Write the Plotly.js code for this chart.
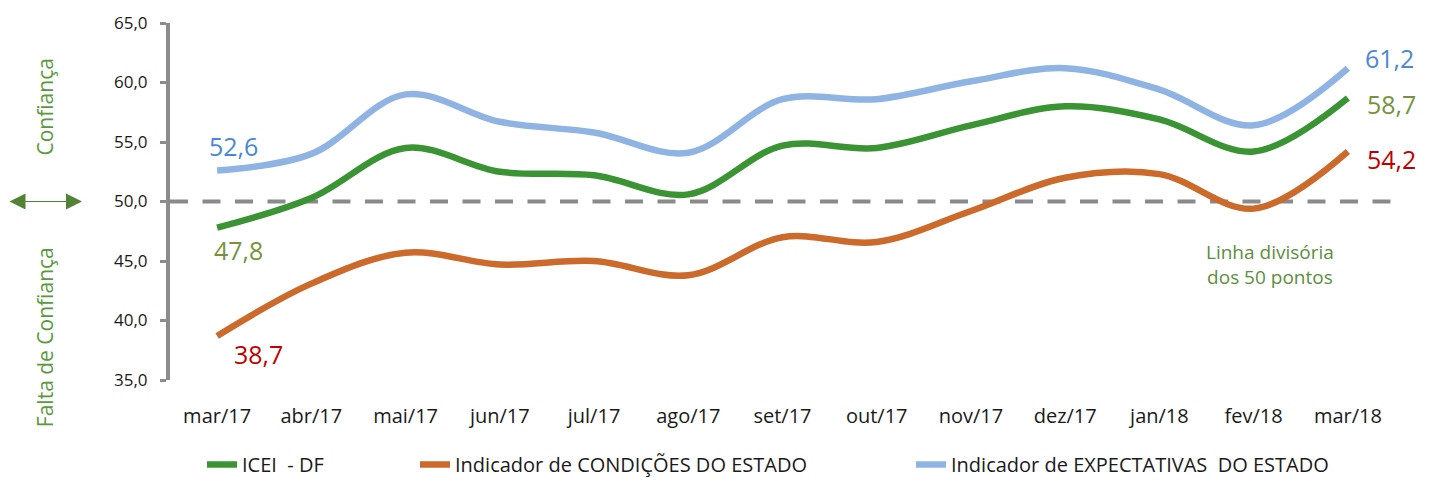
<!DOCTYPE html>
<html>
<head>
<meta charset="utf-8">
<script src="https://cdn.plot.ly/plotly-3.0.1.min.js"></script>
<style>html,body{margin:0;padding:0;background:#fff;}#chart{width:1436px;height:484px;}</style>
</head>
<body>
<div id="chart"></div>
<script>
const categories = ["mar/17","abr/17","mai/17","jun/17","jul/17","ago/17","set/17","out/17","nov/17","dez/17","jan/18","fev/18","mar/18"];
const icei = [47.8, 50.3, 54.5, 52.5, 52.2, 50.6, 54.7, 54.5, 56.4, 58.0, 56.9, 54.2, 58.7];
const condicoes = [38.7, 43.1, 45.7, 44.7, 45.0, 43.8, 47.0, 46.6, 49.2, 52.0, 52.3, 49.4, 54.2];
const expectativas = [52.6, 54.0, 59.0, 56.7, 55.8, 54.1, 58.6, 58.6, 60.1, 61.2, 59.4, 56.4, 61.2];
const seriesNames = ["ICEI  - DF", "Indicador de CONDIÇÕES DO ESTADO", "Indicador de EXPECTATIVAS  DO ESTADO"];
const yTicks = [35, 40, 45, 50, 55, 60, 65];
const divisionValue = 50;

const fmt = v => v.toFixed(1).replace('.', ',');
const last = categories.length - 1;
const FONT = '"Open Sans", Lato, sans-serif';

const traces = [
  {x: categories, y: icei, name: seriesNames[0], type: 'scatter', mode: 'lines', legend: 'legend',
   line: {color: '#3a9434', width: 6.5, shape: 'spline', smoothing: 1}},
  {x: categories, y: condicoes, name: seriesNames[1], type: 'scatter', mode: 'lines', legend: 'legend2',
   line: {color: '#cc6a2b', width: 6.5, shape: 'spline', smoothing: 1}},
  {x: categories, y: expectativas, name: seriesNames[2], type: 'scatter', mode: 'lines', legend: 'legend3',
   line: {color: '#8fb4e3', width: 6.5, shape: 'spline', smoothing: 1}}
];

const labelFont = (c) => ({family: FONT, size: 25, color: c});
const legendBase = (px) => ({orientation: 'h', x: (px - 170) / 1225, xanchor: 'left', y: -0.2913, yanchor: 'bottom',
  font: {family: FONT, size: 20, color: '#1a1a1a'}, bgcolor: 'rgba(0,0,0,0)', itemwidth: 30});

const layout = {
  width: 1436, height: 484,
  margin: {l: 170, r: 41, t: 23, b: 104, autoexpand: false},
  paper_bgcolor: '#ffffff', plot_bgcolor: '#ffffff',
  separators: ',.',
  font: {family: FONT, color: '#1a1a1a'},
  showlegend: true,
  legend: legendBase(202),
  legend2: legendBase(415),
  legend3: legendBase(911),
  xaxis: {type: 'category', range: [-0.5, 12.5], showgrid: false, zeroline: false, showline: false,
          automargin: false, ticks: 'outside', ticklen: 18, tickcolor: 'rgba(0,0,0,0)',
          tickfont: {family: FONT, size: 20, color: '#1a1a1a'}},
  yaxis: {range: [35, 65], tickvals: yTicks, tickformat: '.1f', showgrid: false, zeroline: false,
          automargin: false, showline: true, linecolor: '#8c8c8c', linewidth: 4,
          ticks: 'outside', ticklen: 6, tickwidth: 3, tickcolor: '#8c8c8c', ticklabelstandoff: 9,
          tickfont: {family: FONT, size: 17, color: '#1a1a1a'}},
  shapes: [
    {type: 'line', xref: 'paper', x0: 0, x1: 1, yref: 'y', y0: divisionValue, y1: divisionValue,
     line: {color: '#8a8a8a', width: 4, dash: '18px,14.5px'}, layer: 'below'}
  ],
  annotations: [
    {x: categories[0], y: expectativas[0], text: fmt(expectativas[0]), showarrow: false, yshift: 25, xshift: 16, font: labelFont('#4a88d4')},
    {x: categories[0], y: icei[0], text: fmt(icei[0]), showarrow: false, yshift: -22, xshift: 21, font: labelFont('#76933c')},
    {x: categories[0], y: condicoes[0], text: fmt(condicoes[0]), showarrow: false, yshift: -18, xshift: 41, font: labelFont('#c00000')},
    {x: categories[last], y: expectativas[last], text: fmt(expectativas[last]), showarrow: false, yshift: 10, xshift: 42, font: labelFont('#4a88d4')},
    {x: categories[last], y: icei[last], text: fmt(icei[last]), showarrow: false, yshift: -6, xshift: 44, font: labelFont('#76933c')},
    {x: categories[last], y: condicoes[last], text: fmt(condicoes[last]), showarrow: false, yshift: -7, xshift: 44, font: labelFont('#c00000')},
    {x: categories[10], y: divisionValue, text: 'Linha divisória<br>dos 50 pontos', showarrow: false, xshift: 111, yshift: -63,
     align: 'center', font: {family: FONT, size: 19, color: '#5b8f3a'}},
    {xref: 'paper', yref: 'y', x: (45 - 170) / 1225, y: 57.9, xanchor: 'center', yanchor: 'middle', text: 'Confiança', textangle: -90, showarrow: false,
     font: {family: FONT, size: 21, color: '#5b9a3c'}},
    {xref: 'paper', yref: 'y', x: (45 - 170) / 1225, y: 38.6, xanchor: 'center', yanchor: 'middle', text: 'Falta de Confiança', textangle: -90, showarrow: false,
     font: {family: FONT, size: 21, color: '#5b9a3c'}},
    {xref: 'paper', yref: 'y', x: (82 - 170) / 1225, y: divisionValue, ax: -74, ay: 0, text: '', showarrow: true,
     arrowside: 'end+start', arrowhead: 2, startarrowhead: 2, arrowsize: 3.2, startarrowsize: 3.2, arrowwidth: 1, arrowcolor: '#538135'}
  ]
};

Plotly.newPlot('chart', traces, layout, {displayModeBar: false, staticPlot: true});
</script>
</body>
</html>
